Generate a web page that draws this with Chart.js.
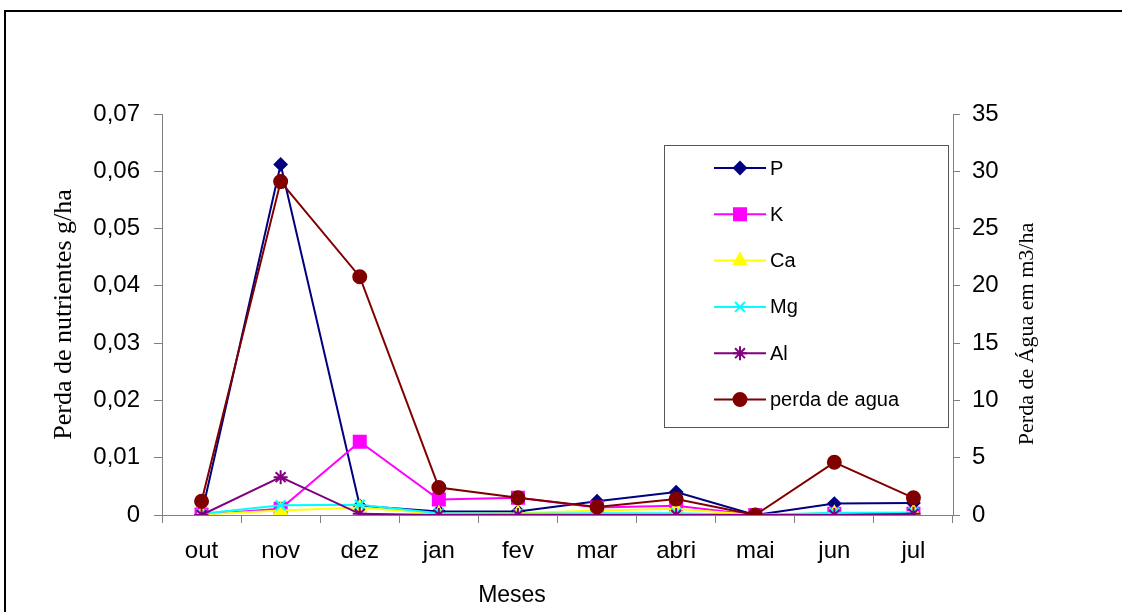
<!DOCTYPE html>
<html>
<head>
<meta charset="utf-8">
<script src="https://cdn.jsdelivr.net/npm/chart.js@4.4.0/dist/chart.umd.min.js"></script>
<style>
    html, body { margin: 0; padding: 0; background: #fff; }
    #wrap { position: relative; width: 1122px; height: 612px; overflow: hidden; }
    #frame { position: absolute; left: 4px; top: 10px; width: 1200px; height: 700px; border: 2px solid #000; box-sizing: border-box; }
    #grafico { position: absolute; left: 0; top: 0; }
</style>
</head>
<body>
<div id="wrap">
    <div id="frame"></div>
    <canvas id="grafico" width="1122" height="612"></canvas>
</div>
<script>
// Meses
var meses = ['out', 'nov', 'dez', 'jan', 'fev', 'mar', 'abri', 'mai', 'jun', 'jul'];

// Perda de nutrientes (g/ha) - eixo esquerdo
var perdaP  = [0.0001, 0.0612, 0.0016, 0.0006, 0.0006, 0.0024, 0.0040, 0, 0.0020, 0.0021];
var perdaK  = [0.0001, 0.0011, 0.0128, 0.0027, 0.0030, 0.0013, 0.0016, 0, 0.0002, 0.0002];
var perdaCa = [0.0001, 0.0008, 0.0013, 0.0002, 0.0003, 0.0008, 0.0011, 0, 0.0003, 0.0005];
var perdaMg = [0.0002, 0.0017, 0.0018, 0.0003, 0.0002, 0.0003, 0.0003, 0, 0.0004, 0.0004];
var perdaAl = [0.0000, 0.0066, 0.0002, 0.0000, 0.0000, 0.0000, 0.0000, 0, 0.0000, 0.0002];

// Perda de agua (m3/ha) - eixo direito
var perdaAgua = [1.2, 29.1, 20.8, 2.4, 1.5, 0.7, 1.4, 0, 4.6, 1.5];

function serie(label, data, cor, estilo, raio, eixo, ordem) {
    return {
        label: label,
        data: data,
        yAxisID: eixo,
        borderColor: cor,
        backgroundColor: cor,
        borderWidth: 2,
        pointStyle: estilo,
        pointRadius: raio,
        pointBorderWidth: 2,
        pointBackgroundColor: cor,
        pointBorderColor: cor,
        tension: 0,
        order: ordem
    };
}

var series = [
    serie('P', perdaP, '#000080', 'rectRot', 6, 'y', 5),
    serie('K', perdaK, '#FF00FF', 'rect', 8.5, 'y', 4),
    serie('Ca', perdaCa, '#FFFF00', 'triangle', 7, 'y', 3),
    serie('Mg', perdaMg, '#00FFFF', 'crossRot', 7, 'y', 2),
    serie('Al', perdaAl, '#800080', 'star', 7, 'y', 1),
    serie('perda de agua', perdaAgua, '#800000', 'circle', 6.5, 'y1', 0)
];

// Legenda desenhada dentro da area do grafico
var legendaPlugin = {
    id: 'legendaCaixa',
    afterDraw: function (chart) {
        var ctx = chart.ctx;
        ctx.save();
        ctx.fillStyle = '#fff';
        ctx.fillRect(664, 145, 284, 282);
        ctx.strokeStyle = '#555';
        ctx.lineWidth = 1;
        ctx.strokeRect(664.5, 145.5, 284, 282);
        ctx.font = '20px "Liberation Sans", Arial, sans-serif';
        ctx.textBaseline = 'middle';
        ctx.textAlign = 'left';
        chart.data.datasets.forEach(function (ds, i) {
            var y = 168 + i * 46.3;
            ctx.strokeStyle = ds.borderColor;
            ctx.lineWidth = 2;
            ctx.beginPath();
            ctx.moveTo(714, y);
            ctx.lineTo(766, y);
            ctx.stroke();
            ctx.fillStyle = ds.pointBackgroundColor;
            ctx.strokeStyle = ds.pointBorderColor;
            Chart.helpers.drawPoint(ctx, {
                pointStyle: ds.pointStyle,
                radius: ds.pointRadius,
                borderWidth: 2,
                rotation: 0
            }, 740, y);
            ctx.fillStyle = '#000';
            ctx.fillText(ds.label, 770, y + 1);
        });
        ctx.restore();
    }
};

// Titulos dos eixos (x e direito)
var titulosPlugin = {
    id: 'titulosEixos',
    afterDraw: function (chart) {
        var ctx = chart.ctx;
        ctx.save();
        ctx.fillStyle = '#000';
        ctx.textAlign = 'center';
        ctx.textBaseline = 'middle';
        ctx.font = '23px "Liberation Sans", Arial, sans-serif';
        ctx.fillText('Meses', 512, 596);
        ctx.translate(1027, 334);
        ctx.rotate(-Math.PI / 2);
        ctx.font = '22px "Liberation Serif", "Times New Roman", serif';
        ctx.fillText('Perda de Água em m3/ha', 0, 0);
        ctx.restore();
    }
};

var fonteTicks = { family: '"Liberation Sans", Arial, sans-serif', size: 24 };

new Chart(document.getElementById('grafico').getContext('2d'), {
    type: 'line',
    data: { labels: meses, datasets: series },
    options: {
        responsive: false,
        animation: false,
        layout: { padding: { top: 114, bottom: 0, left: 0, right: 0 } },
        plugins: {
            legend: { display: false },
            tooltip: { enabled: false }
        },
        scales: {
            x: {
                offset: true,
                grid: { drawOnChartArea: false, drawTicks: true, tickLength: 8, color: '#808080', offset: true },
                border: { color: '#808080', width: 1 },
                ticks: { font: fonteTicks, color: '#000', padding: 14, maxRotation: 0 },
                afterFit: function (s) { s.height = 97; }
            },
            y: {
                position: 'left',
                min: 0,
                max: 0.07,
                grid: { drawOnChartArea: false, drawTicks: true, tickLength: 8, color: '#808080' },
                border: { color: '#808080', width: 1 },
                ticks: {
                    stepSize: 0.01,
                    font: fonteTicks,
                    color: '#000',
                    padding: 14,
                    callback: function (v) {
                        var r = Math.round(v * 100) / 100;
                        return r === 0 ? '0' : r.toFixed(2).replace('.', ',');
                    }
                },
                title: {
                    display: true,
                    text: 'Perda de nutrientes g/ha',
                    color: '#000',
                    font: { family: '"Liberation Serif", "Times New Roman", serif', size: 26 },
                    padding: { top: 49, bottom: 0 }
                },
                afterFit: function (s) { s.width = 162; }
            },
            y1: {
                position: 'right',
                min: 0,
                max: 35,
                grid: { drawOnChartArea: false, drawTicks: true, tickLength: 7, color: '#808080' },
                border: { color: '#808080', width: 1 },
                ticks: { stepSize: 5, font: fonteTicks, color: '#000', padding: 12 },
                afterFit: function (s) { s.width = 169; }
            }
        }
    },
    plugins: [legendaPlugin, titulosPlugin]
});
</script>
</body>
</html>
